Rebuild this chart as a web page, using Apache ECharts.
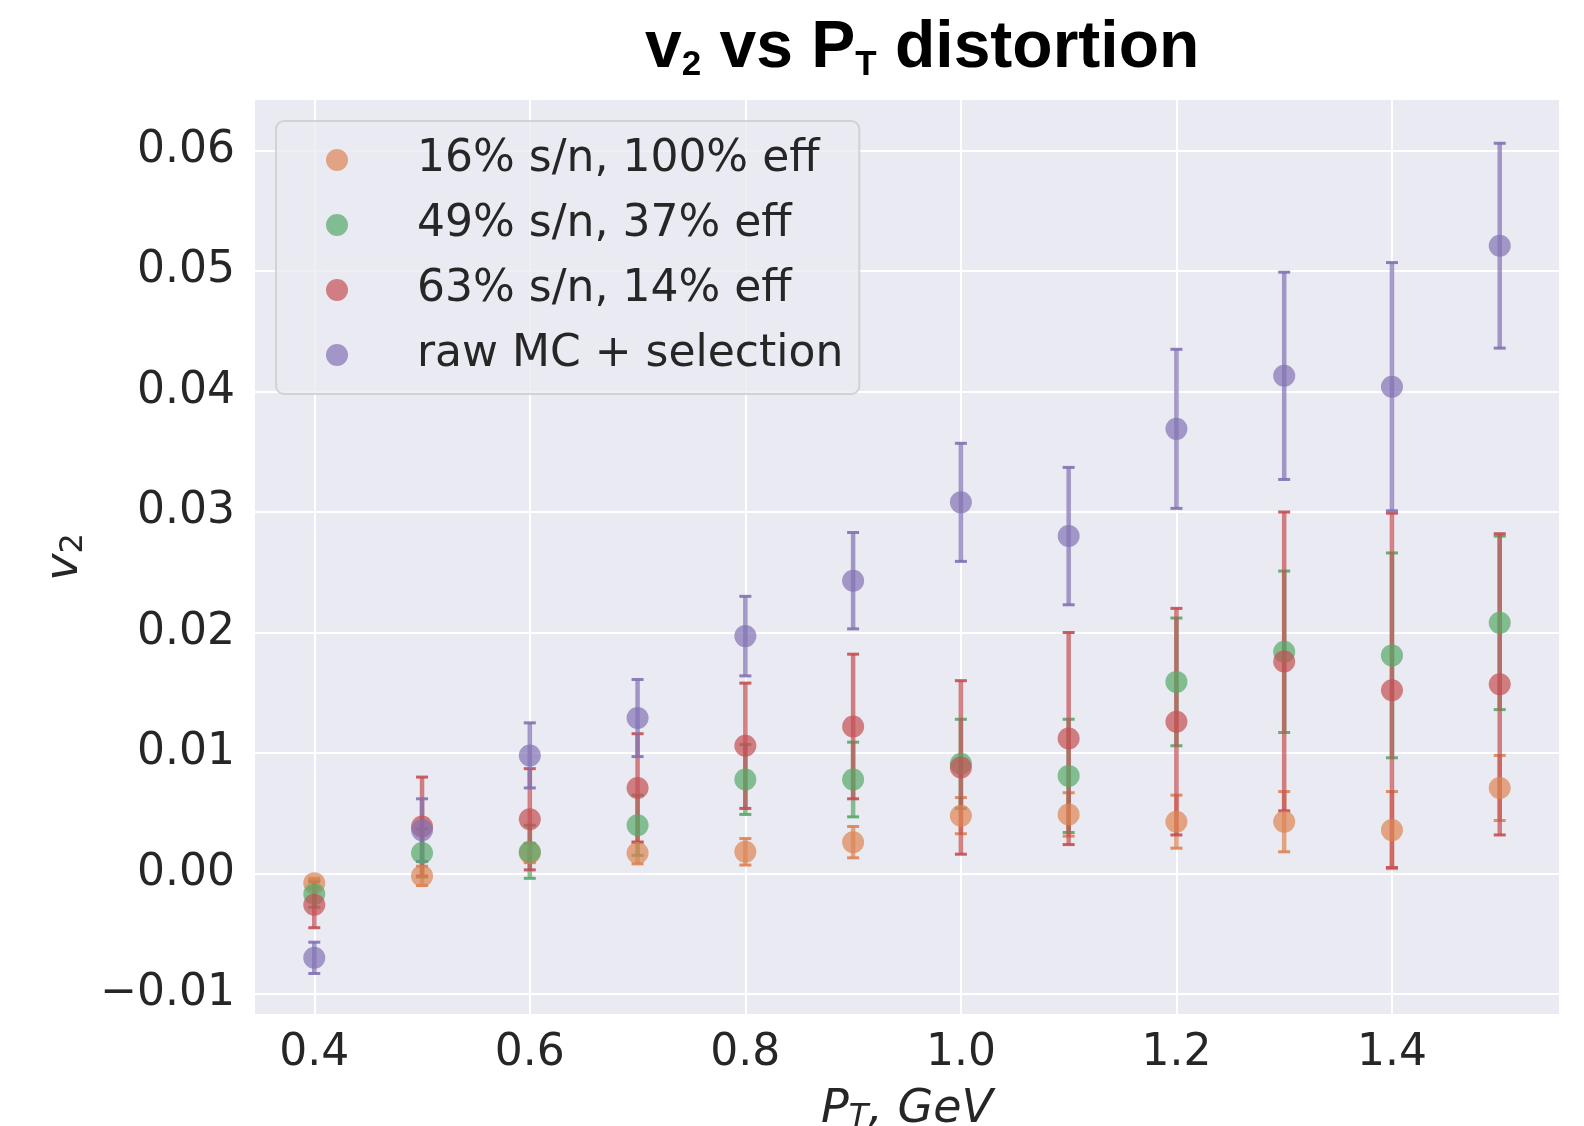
<!DOCTYPE html>
<html>
<head>
<meta charset="utf-8">
<title>v2 vs PT distortion</title>
<script src="https://cdn.jsdelivr.net/npm/echarts@6/dist/echarts.min.js"></script>
<style>
  html, body { margin: 0; padding: 0; background: #ffffff; }
  #chart { width: 1584px; height: 1126px; }
</style>
</head>
<body>
<div id="chart"></div>
<script>
// P_T bins (GeV)
var ptValues = [0.4, 0.5, 0.6, 0.7, 0.8, 0.9, 1.0, 1.1, 1.2, 1.3, 1.4, 1.5];

// v2 per configuration, with symmetric errors
var sn16Values = [-0.0008, -0.0002, 0.0017, 0.0017, 0.0018, 0.0026, 0.0048, 0.0049, 0.0043, 0.0043, 0.0036, 0.0071];
var sn16Errors = [0.0004, 0.0008, 0.0008, 0.0009, 0.0011, 0.0013, 0.0015, 0.0018, 0.0022, 0.0025, 0.0032, 0.0027];

var sn49Values = [-0.0017, 0.0017, 0.0018, 0.0040, 0.0078, 0.0078, 0.0091, 0.0081, 0.0159, 0.0184, 0.0181, 0.0208];
var sn49Errors = [0.0011, 0.0020, 0.0022, 0.0025, 0.0029, 0.0031, 0.0037, 0.0047, 0.0053, 0.0067, 0.0085, 0.0072];

var sn63Values = [-0.0026, 0.0039, 0.0045, 0.0071, 0.0106, 0.0122, 0.0088, 0.0112, 0.0126, 0.0176, 0.0152, 0.0157];
var sn63Errors = [0.0019, 0.0041, 0.0042, 0.0045, 0.0052, 0.0060, 0.0072, 0.0088, 0.0094, 0.0124, 0.0147, 0.0125];

var rawValues = [-0.0070, 0.0036, 0.0098, 0.0129, 0.0197, 0.0243, 0.0308, 0.0280, 0.0369, 0.0413, 0.0404, 0.0521];
var rawErrors = [0.0013, 0.0026, 0.0027, 0.0032, 0.0033, 0.0040, 0.0049, 0.0057, 0.0066, 0.0086, 0.0103, 0.0085];

var seriesNames = ['16% s/n, 100% eff', '49% s/n, 37% eff', '63% s/n, 14% eff', 'raw MC + selection'];

// tick labels
var xTicks = [0.4, 0.6, 0.8, 1.0, 1.2, 1.4];
var yTicks = [-0.01, 0.00, 0.01, 0.02, 0.03, 0.04, 0.05, 0.06];

var chart = echarts.init(document.getElementById('chart'));

var groups = [
  { name: seriesNames[0], values: sn16Values, errors: sn16Errors, color: '#DD8452', fade: 'rgba(221,132,82,0.7)' },
  { name: seriesNames[1], values: sn49Values, errors: sn49Errors, color: '#55A868', fade: 'rgba(85,168,104,0.7)' },
  { name: seriesNames[2], values: sn63Values, errors: sn63Errors, color: '#C44E52', fade: 'rgba(196,78,82,0.7)' },
  { name: seriesNames[3], values: rawValues, errors: rawErrors, color: '#8172B3', fade: 'rgba(129,114,179,0.7)' }
];

function errorBar(g) {
  return function(params, api) {
    var x = api.value(0), y = api.value(1), e = api.value(2);
    var hi = api.coord([x, y + e]);
    var lo = api.coord([x, y - e]);
    var cap = 6;
    return {
      type: 'group',
      children: [
        { type: 'line', shape: { x1: hi[0], y1: hi[1], x2: lo[0], y2: lo[1] },
          style: { stroke: g.fade, lineWidth: 4.5 } },
        { type: 'line', shape: { x1: hi[0] - cap, y1: hi[1], x2: hi[0] + cap, y2: hi[1] },
          style: { stroke: g.color, lineWidth: 3, opacity: 0.9 } },
        { type: 'line', shape: { x1: lo[0] - cap, y1: lo[1], x2: lo[0] + cap, y2: lo[1] },
          style: { stroke: g.color, lineWidth: 3, opacity: 0.9 } }
      ]
    };
  };
}

var series = [];
groups.forEach(function(g) {
  series.push({
    name: g.name + ' err',
    type: 'custom',
    silent: true,
    renderItem: errorBar(g),
    encode: { x: 0, y: 1 },
    data: ptValues.map(function(x, i) { return [x, g.values[i], g.errors[i]]; })
  });
  series.push({
    name: g.name,
    type: 'scatter',
    symbol: 'circle',
    symbolSize: 22,
    itemStyle: { color: g.color, opacity: 0.7 },
    emphasis: { disabled: true },
    data: ptValues.map(function(x, i) { return [x, g.values[i]]; })
  });
});

var tickColor = '#262626';

chart.setOption({
  animation: false,
  backgroundColor: '#ffffff',
  title: {
    left: 640,
    top: 10,
    text: '{b|v}{s|2}{b| vs P}{s|T}{b| distortion}',
    textStyle: {
      rich: {
        b: { fontFamily: 'Liberation Sans', fontWeight: 'bold', fontSize: 66, lineHeight: 66, color: '#000000' },
        s: { fontFamily: 'Liberation Sans', fontWeight: 'bold', fontSize: 35, lineHeight: 68, color: '#000000', verticalAlign: 'bottom' }
      }
    }
  },
  legend: {
    orient: 'vertical',
    left: 276,
    top: 121,
    padding: [14, 16, 14, 50],
    itemGap: 15,
    itemWidth: 22,
    itemHeight: 22,
    icon: 'circle',
    backgroundColor: 'rgba(234,234,242,0.8)',
    borderColor: 'rgba(204,204,204,0.8)',
    borderWidth: 2,
    borderRadius: 8,
    textStyle: { fontFamily: 'DejaVu Sans', fontSize: 44, color: tickColor, lineHeight: 50, padding: [0, 0, 0, 64] },
    data: groups.map(function(g) {
      return { name: g.name, icon: 'circle', itemStyle: { color: g.fade, opacity: 1 } };
    })
  },
  grid: {
    left: 255,
    right: 25,
    top: 100,
    bottom: 112,
    outerBoundsMode: 'none',
    containLabel: false,
    show: true,
    backgroundColor: '#EAEAF2',
    borderWidth: 0
  },
  xAxis: {
    type: 'value',
    min: 0.345,
    max: 1.555,
    name: '{i|P}{is|T}{i|, GeV}',
    nameLocation: 'middle',
    nameGap: 72,
    nameTextStyle: {
      rich: {
        i: { fontFamily: 'DejaVu Sans', fontStyle: 'italic', fontSize: 46, lineHeight: 46, color: tickColor },
        is: { fontFamily: 'DejaVu Sans', fontStyle: 'italic', fontSize: 32, lineHeight: 48, color: tickColor, verticalAlign: 'bottom' }
      }
    },
    axisLine: { show: false },
    axisTick: { show: false, customValues: xTicks },
    axisLabel: {
      customValues: xTicks,
      margin: 18,
      fontFamily: 'DejaVu Sans',
      fontSize: 44,
      color: tickColor,
      formatter: function(v) { return v.toFixed(1); }
    },
    splitLine: { show: true, lineStyle: { color: '#ffffff', width: 2 } }
  },
  yAxis: {
    type: 'value',
    min: -0.01166,
    max: 0.06419,
    name: '{i|v}{is|2}',
    nameLocation: 'middle',
    nameRotate: 90,
    nameGap: 148,
    nameTextStyle: {
      rich: {
        i: { fontFamily: 'DejaVu Sans', fontStyle: 'italic', fontSize: 46, lineHeight: 46, color: tickColor },
        is: { fontFamily: 'DejaVu Sans', fontSize: 32, lineHeight: 48, color: tickColor, verticalAlign: 'bottom' }
      }
    },
    axisLine: { show: false },
    axisTick: { show: false, customValues: yTicks },
    axisLabel: {
      customValues: yTicks,
      margin: 20,
      fontFamily: 'DejaVu Sans',
      fontSize: 44,
      color: tickColor,
      formatter: function(v) {
        var s = Math.abs(v).toFixed(2);
        return (v < -1e-9 ? '\u2212' : '') + s;
      }
    },
    splitLine: { show: true, lineStyle: { color: '#ffffff', width: 2 } }
  },
  series: series
});
</script>
</body>
</html>
